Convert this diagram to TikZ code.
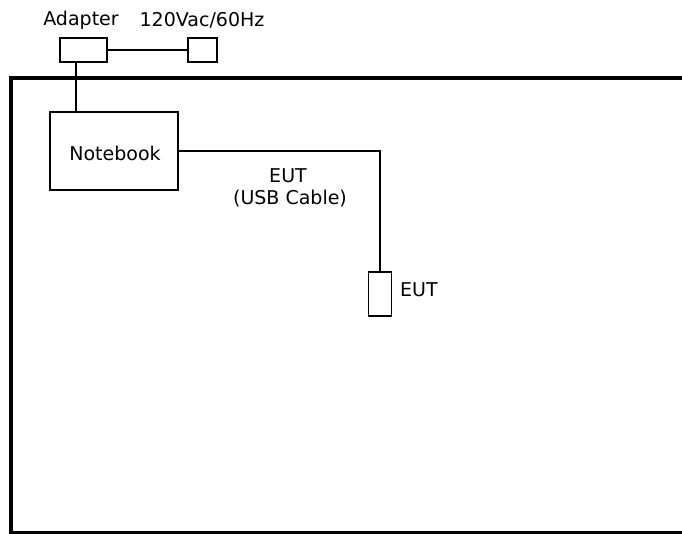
\documentclass[tikz,border=0pt]{standalone}
\usepackage{fontspec}
\setmainfont{DejaVu Sans}
\begin{document}
\begin{tikzpicture}[x=1pt,y=-1pt,
  box/.style={draw,line width=1.4pt,inner sep=0pt,outer sep=0pt},
  wire/.style={line width=1.4pt},
  lbl/.style={inner sep=0pt,font=\fontsize{19}{22}\selectfont}]
\useasboundingbox (0,0) rectangle (682,534);
\begin{scope}
\clip (0,0) rectangle (682,534);
\draw[line width=4.5pt] (11,78) -- (700,78);
\draw[line width=4.5pt] (11,76) -- (11,532);
\draw[line width=3pt] (9,532) -- (700,532);
\end{scope}
\node[box,minimum width=47pt,minimum height=24pt] (adapter) at (83.5,50) {};
\node[box,minimum width=29pt,minimum height=24pt] (plug) at (202.5,50) {};
\node[box,minimum width=128pt,minimum height=78pt] (nb) at (114,151) {};
\node[box,minimum width=23pt,minimum height=44pt] (eut) at (380,294) {};
\node[lbl] (tadapter) at (81,20) {Adapter};
\node[lbl] (tpower) at (202,20) {120Vac/60Hz};
\node[lbl] (tnb) at (115,153) {Notebook};
\node[lbl] (tcable1) at (288,176) {EUT};
\node[lbl] (tcable2) at (290,199) {(USB Cable)};
\node[lbl,anchor=west] (teut) at (400,290) {EUT};
\draw[wire] (adapter.east) -- (plug.west);
\draw[wire] ([xshift=-7.5pt]adapter.south) -- ([xshift=-7.5pt]adapter.south |- nb.north);
\draw[wire] (nb.east) -| (eut.north);
\end{tikzpicture}
\end{document}
